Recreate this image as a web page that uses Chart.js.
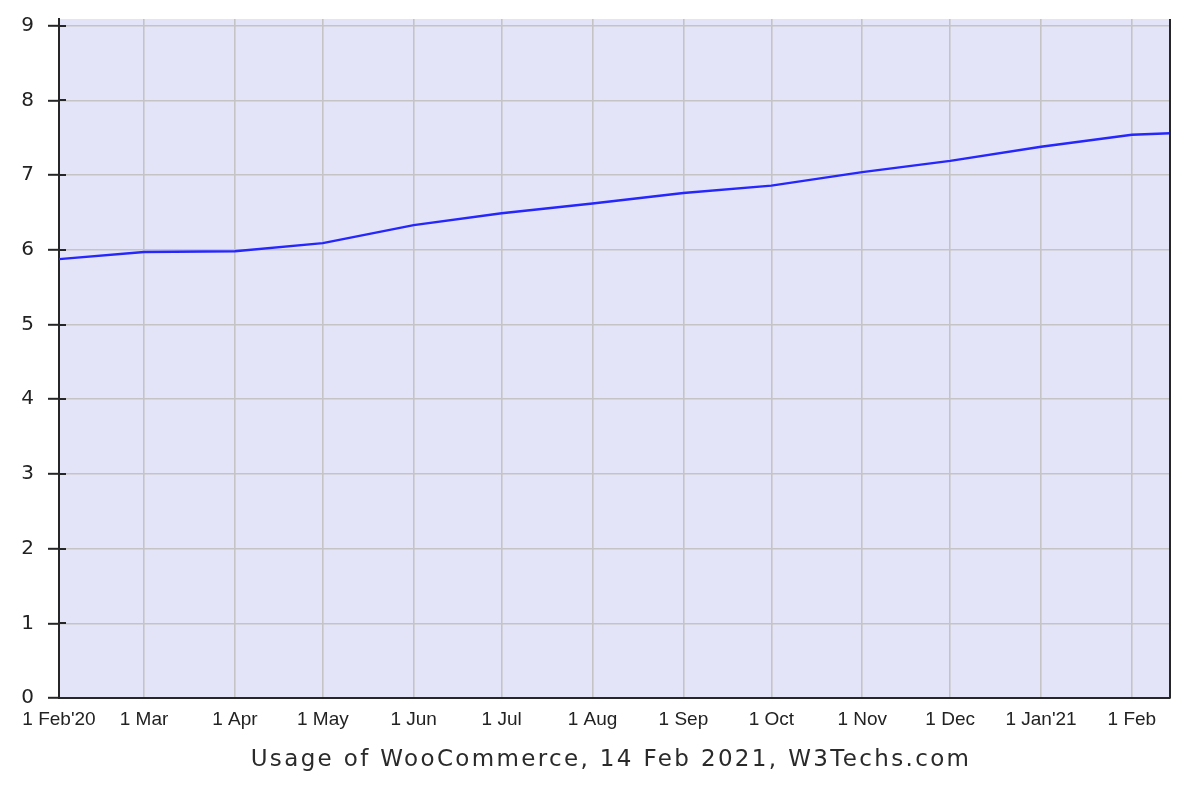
<!DOCTYPE html>
<html>
<head>
<meta charset="utf-8">
<script src="https://cdn.jsdelivr.net/npm/chart.js@4.4.1/dist/chart.umd.min.js"></script>
<style>
html,body{margin:0;padding:0;background:#fff;}
#wrap{width:1202px;height:802px;position:relative;}
</style>
</head>
<body>
<div id="wrap"><canvas id="c"></canvas></div>
<script>
// Days since 1 Feb 2020
const monthDays = [0, 29, 60, 90, 121, 151, 182, 213, 243, 274, 304, 335, 366];
const monthLabels = ["1 Feb'20", "1 Mar", "1 Apr", "1 May", "1 Jun", "1 Jul", "1 Aug", "1 Sep", "1 Oct", "1 Nov", "1 Dec", "1 Jan'21", "1 Feb"];
const pointDays = [0, 29, 60, 90, 121, 151, 182, 213, 243, 274, 304, 335, 366, 379];
const usagePercent = [5.875, 5.97, 5.98, 6.09, 6.33, 6.49, 6.62, 6.76, 6.86, 7.04, 7.19, 7.38, 7.54, 7.56];
const yTicks = [0, 1, 2, 3, 4, 5, 6, 7, 8, 9];
const titleText = "Usage of WooCommerce, 14 Feb 2021, W3Techs.com";

const lavender = '#e4e4f8';
const gridGray = '#c4c4c4';
const axisDark = '#262626';

const framePlugin = {
  id: 'frame',
  beforeDraw(chart) {
    const {ctx, chartArea: a} = chart;
    ctx.save();
    ctx.fillStyle = lavender;
    ctx.fillRect(a.left, a.top, a.right - a.left, a.bottom - a.top);
    ctx.restore();
  },
  afterDraw(chart) {
    const {ctx, chartArea: a} = chart;
    const y = chart.scales.y;
    ctx.save();
    ctx.strokeStyle = axisDark;
    ctx.lineWidth = 2;
    // inner part of y tick marks
    ctx.beginPath();
    yTicks.forEach(v => {
      const py = Math.round(y.getPixelForValue(v));
      ctx.moveTo(a.left, py);
      ctx.lineTo(a.left + 7, py);
    });
    ctx.stroke();
    // right border
    ctx.beginPath();
    ctx.moveTo(a.right, a.top);
    ctx.lineTo(a.right, a.bottom);
    ctx.stroke();
    // title
    ctx.fillStyle = '#2a2a2a';
    ctx.font = '23px "DejaVu Sans"';
    try { ctx.letterSpacing = '2.35px'; } catch (e) {}
    ctx.textAlign = 'center';
    ctx.textBaseline = 'middle';
    ctx.fillText(titleText, 611, 760);
    ctx.restore();
  }
};

new Chart(document.getElementById('c'), {
  type: 'line',
  data: {
    datasets: [{
      data: pointDays.map((d, i) => ({x: d, y: usagePercent[i]})),
      borderColor: '#2626ff',
      borderWidth: 2.4,
      pointRadius: 0,
      tension: 0,
      fill: false
    }]
  },
  options: {
    responsive: true,
    maintainAspectRatio: false,
    animation: false,
    devicePixelRatio: 1,
    layout: {padding: {top: 19, right: 32, left: 0, bottom: 0}},
    plugins: {legend: {display: false}, tooltip: {enabled: false}, title: {display: false}},
    scales: {
      x: {
        type: 'linear',
        min: 0,
        max: 379,
        afterBuildTicks(scale) { scale.ticks = monthDays.map(v => ({value: v})); },
        afterFit(scale) { scale.height = 104; scale.paddingLeft = 0; scale.paddingRight = 0; },
        ticks: {
          autoSkip: false,
          maxRotation: 0,
          padding: 10,
          color: '#222',
          font: {family: '"Liberation Sans", Arial', size: 19},
          callback(v) { const i = monthDays.indexOf(v); return i >= 0 ? monthLabels[i] : ''; }
        },
        grid: {color: gridGray, lineWidth: 1.6, drawTicks: false},
        border: {display: true, color: axisDark, width: 2}
      },
      y: {
        min: 0,
        max: 9.09,
        afterBuildTicks(scale) { scale.ticks = yTicks.map(v => ({value: v})); },
        afterFit(scale) { scale.width = 59; scale.paddingTop = 0; scale.paddingBottom = 0; },
        ticks: {
          padding: 14,
          color: '#222',
          font: {family: '"DejaVu Sans"', size: 20}
        },
        grid: {color: gridGray, lineWidth: 1.6, tickLength: 11, tickColor: axisDark, tickWidth: 2},
        border: {display: true, color: axisDark, width: 2}
      }
    }
  },
  plugins: [framePlugin]
});
</script>
</body>
</html>
